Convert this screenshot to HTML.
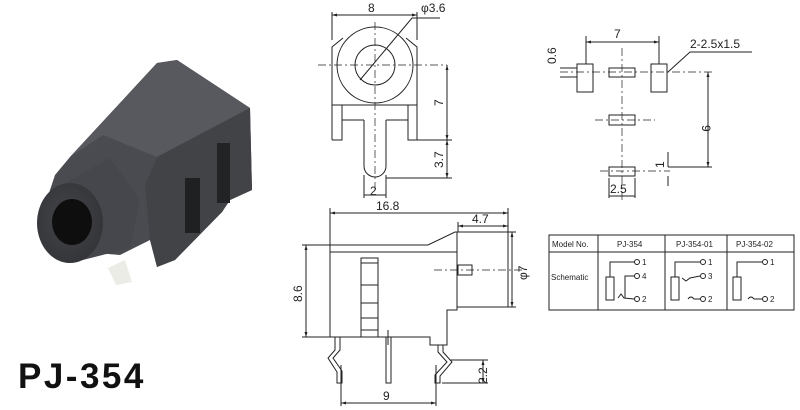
<!DOCTYPE html>
<html><head><meta charset="utf-8"><style>
html,body{margin:0;padding:0;background:#fff;}
svg{display:block;}
text{font-family:"Liberation Sans",Arial,sans-serif;fill:#222;}
</style></head><body>
<svg width="800" height="410" viewBox="0 0 800 410" xmlns="http://www.w3.org/2000/svg">
<defs>
<marker id="a" viewBox="0 0 10 10" refX="10" refY="5" markerWidth="7" markerHeight="5" orient="auto-start-reverse"><path d="M0,2 L10,5 L0,8 z" fill="#222"/></marker>
<radialGradient id="g1" cx="0.45" cy="0.45" r="0.6"><stop offset="0" stop-color="#44454a"/><stop offset="1" stop-color="#333438"/></radialGradient>
</defs>

<!-- Photo -->
<g>
<polygon points="70,157 157,63 177,60 250,108 252,190 230,200 222,212 175,260 157,267 150,240 120,255 60,250 40,220 55,175" fill="#4a4b50"/>
<polygon points="70,157 157,63 177,60 250,108 157,157 103,135" fill="#58595e"/>
<polygon points="157,157 250,108 252,190 230,200 222,212 175,260 157,267 150,240 145,185" fill="#424347"/>
<rect x="217" y="143" width="13" height="60" fill="#222325"/>
<rect x="185" y="178" width="15" height="55" fill="#1f2022"/>
<polygon points="62,185 110,158 140,200 130,248 75,262" fill="#46474c"/>
<ellipse cx="70" cy="223" rx="33" ry="40" fill="url(#g1)"/>
<ellipse cx="72" cy="222" rx="20" ry="23" fill="#0e0e0f"/>
<polygon points="108,268 125,260 132,282 116,285" fill="#ecece6"/>
</g>
<text x="18" y="388" font-size="35" font-weight="bold" letter-spacing="2.5" style="fill:#111">PJ-354</text>

<g stroke="#222" stroke-width="1" fill="none">
<path d="M332,140 V47 L343,38 M417,140 V47 L406,38"/>
<circle cx="375" cy="65" r="38" fill="#fff"/>
<circle cx="375" cy="65" r="20"/>
<path d="M332,105 H417 M342,105 V120 H364 M408,105 V120 H386 M332,140 H342 V120 M417,140 H408 V120"/>
<path d="M364,120 V166 A11,11 0 0 0 386,166 V120"/>
<path d="M318,65 H447 M375,22 V190" stroke-dasharray="8,3,2,3" stroke-width="0.7"/>
<path d="M332,15 H417" marker-start="url(#a)" marker-end="url(#a)"/>
<path d="M332,12 V40 M417,12 V40"/>
<path d="M360,80 L412,18 H440"/>
<path d="M447,65 V140" marker-start="url(#a)" marker-end="url(#a)"/>
<path d="M447,140 V178" marker-start="url(#a)" marker-end="url(#a)"/>
<path d="M417,140 H452 M386,178 H452"/>
<path d="M364,175 V198 M386,175 V198 M364,195 H386"/>

<rect x="577" y="64" width="16" height="28"/>
<rect x="651" y="64" width="16" height="28"/>
<rect x="609" y="68" width="26" height="9"/>
<rect x="609" y="115" width="26" height="10"/>
<rect x="609" y="167" width="26" height="9"/>
<path d="M622,48 V200 M560,72 H712 M595,120 H655 M600,171 H670" stroke-dasharray="8,3,2,3" stroke-width="0.7"/>
<path d="M586,42 H659" marker-start="url(#a)" marker-end="url(#a)"/>
<path d="M586,36 V64 M659,36 V64"/>
<path d="M668,72 L690,52 H752"/>
<path d="M708,72 V167" marker-start="url(#a)" marker-end="url(#a)"/>
<path d="M668,167 H712"/>
<path d="M668,152 V167 M668,176 V186" />
<path d="M560,68 H577 M560,77 H577"/>
<path d="M609,178 V198 M635,178 V198 M609,196 H635"/>

<path d="M330,213 H508" marker-start="url(#a)" marker-end="url(#a)"/>
<path d="M458,226 H508" marker-start="url(#a)" marker-end="url(#a)"/>
<path d="M330,208 V245 M508,208 V232 M458,222 V232"/>
<path d="M330,245 H428 L455,232 H508 V307 H457 V310 H447 V345 H430 V337 H330 Z"/>
<path d="M330,252 H457 M457,232 V307"/>
<rect x="361" y="258" width="17" height="79"/>
<path d="M361,263 H378 M361,285 H378 M361,303 H378 M361,318 H378 M361,330 H378"/>
<rect x="458" y="265" width="14" height="10"/>
<path d="M434,270 H525" stroke-dasharray="8,3,2,3" stroke-width="0.7"/>
<path d="M335,337 V350 L328,358 L337,372 V383 H342 V371 L333,358 L340,350 V337"/>
<rect x="386" y="337" width="5" height="46"/>
<path d="M438,345 V352 L447,362 L435,375 V383 H440 V376 L452,362 L443,352 V345"/>
<path d="M306,245 V337" marker-start="url(#a)" marker-end="url(#a)"/>
<path d="M302,245 H330 M302,337 H330"/>
<path d="M512,232 V307" marker-start="url(#a)" marker-end="url(#a)"/>
<path d="M508,232 H516 M508,307 H516"/>
<path d="M483,360 V383" marker-start="url(#a)" marker-end="url(#a)"/>
<path d="M450,360 H488 M442,383 H488"/>
<path d="M341,403 H436" marker-start="url(#a)" marker-end="url(#a)"/>
<path d="M341,365 V406 M436,365 V406 M388,330 V345"/>

<rect x="549" y="235" width="245" height="75"/>
<path d="M549,252 H794 M598,235 V310 M665,235 V310 M727,235 V310"/>
<rect x="606" y="277" width="8" height="23"/>
<path d="M610,277 V262 H634 M625,298 V276 H634 M618,298 l3,-4 l3,4 L634,299"/>
<circle cx="637" cy="262" r="2.5"/><circle cx="637" cy="276" r="2.5"/><circle cx="637" cy="299" r="2.5"/>
<rect x="671" y="277" width="8" height="23"/>
<path d="M675,277 V262 H700 M682,278 l4,3 l4,-3 L700,276 M688,299 q3,-4 6,0 L700,299"/>
<circle cx="703" cy="262" r="2.5"/><circle cx="703" cy="276" r="2.5"/><circle cx="703" cy="299" r="2.5"/>
<rect x="733" y="277" width="8" height="23"/>
<path d="M737,277 V262 H762 M748,299 q3,-4 6,0 L762,299"/>
<circle cx="765" cy="262" r="2.5"/><circle cx="765" cy="299" r="2.5"/>
</g>

<g font-size="12">
<text x="368" y="12">8</text>
<text x="421" y="12">φ3.6</text>
<text x="614" y="38">7</text>
<text x="690" y="48">2-2.5x1.5</text>
<text x="610" y="193">2.5</text>
<text x="370" y="195">2</text>
<text x="376" y="210">16.8</text>
<text x="472" y="223">4.7</text>
<text x="383" y="400">9</text>
<text transform="translate(443,106) rotate(-90)">7</text>
<text transform="translate(443,168) rotate(-90)">3.7</text>
<text transform="translate(702,125) rotate(90)">9</text>
<text transform="translate(664,168) rotate(-90)">1</text>
<text transform="translate(556,64) rotate(-90)">0.6</text>
<text transform="translate(302,302) rotate(-90)">8.6</text>
<text transform="translate(527,280) rotate(-90)">φ7</text>
<text transform="translate(487,384) rotate(-90)">2.2</text>
</g>
<g font-size="8">
<text x="552" y="247">Model No.</text>
<text x="617" y="247">PJ-354</text>
<text x="676" y="247">PJ-354-01</text>
<text x="736" y="247">PJ-354-02</text>
<text x="551" y="280">Schematic</text>
<text x="642" y="265">1</text><text x="642" y="279">4</text><text x="642" y="302">2</text>
<text x="708" y="265">1</text><text x="708" y="279">3</text><text x="708" y="302">2</text>
<text x="770" y="265">1</text><text x="770" y="302">2</text>
</g>
</svg>
</body></html>
